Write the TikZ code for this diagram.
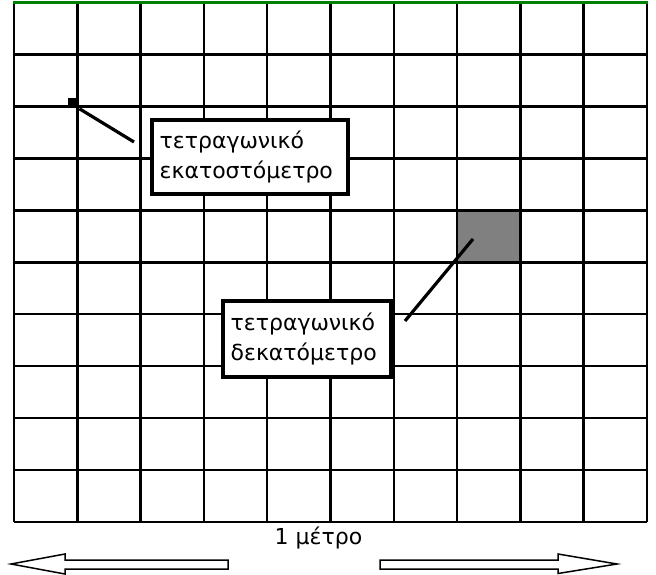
\documentclass[tikz,border=0pt]{standalone}
\usepackage{fontspec}
\setmainfont{DejaVu Sans}
\usetikzlibrary{positioning}
\tikzset{
    gridline/.style={line width=2.5pt},
    labelbox/.style={draw, line width=3.8pt, fill=white, align=left, anchor=north west,
        inner xsep=8pt, inner ysep=0pt, font=\fontsize{22}{30}\selectfont},
    leader/.style={line width=3.2pt},
    blockarrow/.style={draw, line width=1.5pt, fill=white, line join=miter},
}

\begin{document}
\begin{tikzpicture}[x=1pt,y=-1pt]
\useasboundingbox[fill=white] (0,0) rectangle (656,575);
\fill[gray] (457,210) rectangle (521,262);
\foreach \i in {0,...,10}
    \draw[gridline] ({14+63.3*\i},2.5) -- ({14+63.3*\i},522);
\foreach \j in {1,...,10}
    \draw[gridline] (14,{2.5+51.95*\j}) -- (647,{2.5+51.95*\j});
\draw[gridline, green!50!black] (13,2.5) -- (648,2.5);
\node[fill=black, minimum size=9pt, inner sep=0pt] (cmsq) at (72.2,102.5) {};
\node[labelbox, text width=180.5pt, minimum height=74.5pt] (cmbox) at (149.75,117.75) {τετραγωνικό\\εκατοστόμετρο};
\node[labelbox, text width=152.5pt, minimum height=76.5pt] (dmbox) at (220.75,298.75) {τετραγωνικό\\δεκατόμετρο};
\coordinate (cmend) at (134,142);
\coordinate (dmtip) at (473,239);
\coordinate (dmend) at (405,321);
\draw[leader, shorten <=3pt] (cmsq.south east) -- (cmend);
\draw[leader] (dmtip) -- (dmend);
\node[font=\fontsize{22}{22}\selectfont, anchor=base] (metre) at (318.5,544) {1 μέτρο};
\draw[blockarrow] (11,564) -- (65,554) -- (65,560) -- (228,560) -- (228,569) -- (65,569) -- (65,574) -- cycle;
\draw[blockarrow] (617,564) -- (558,554) -- (558,560) -- (380,560) -- (380,569) -- (558,569) -- (558,573.5) -- cycle;
\end{tikzpicture}
\end{document}
